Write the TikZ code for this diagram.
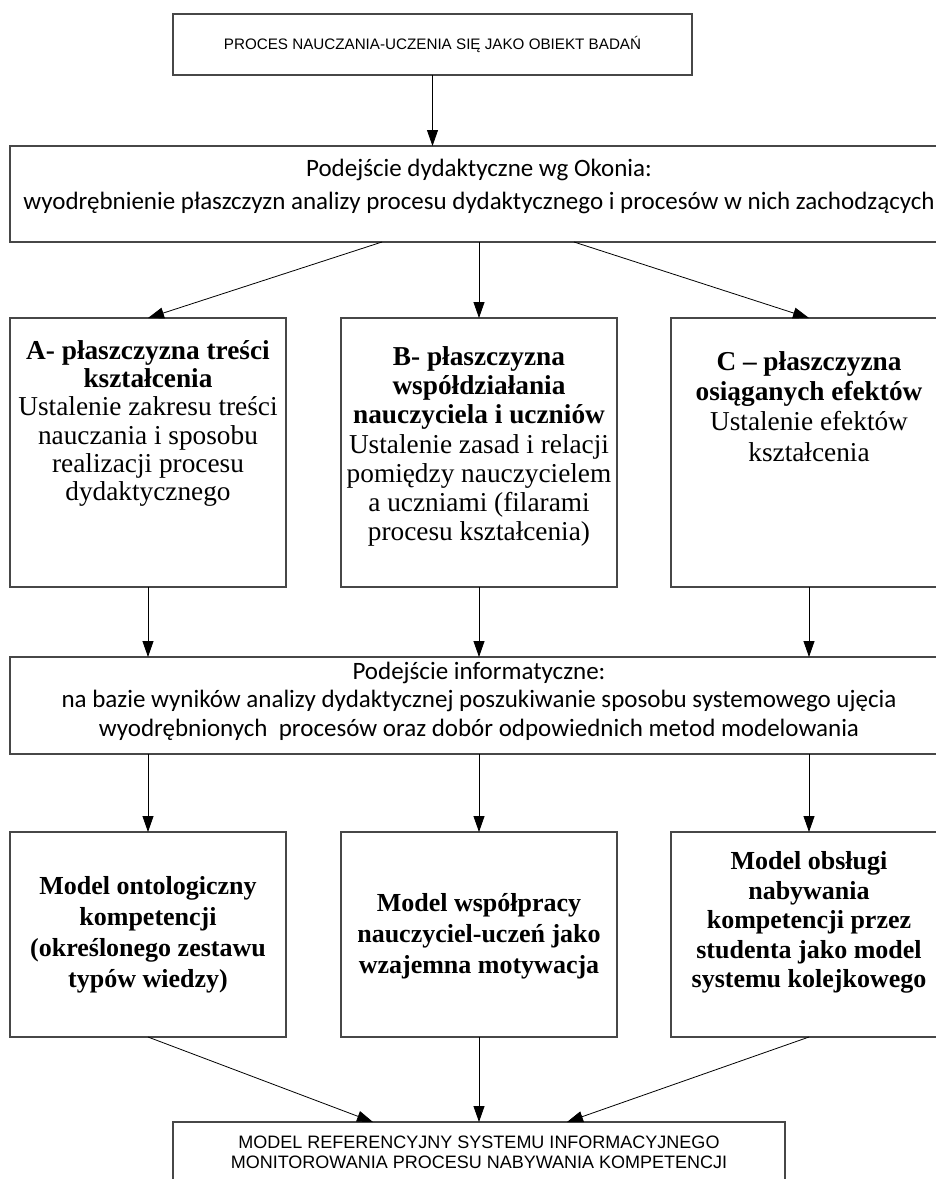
\documentclass[tikz,border=0pt]{standalone}
\usepackage{fontspec}
\setmainfont{Liberation Serif}
\newfontfamily\arialfont{Liberation Sans}
\newfontfamily\califont{Carlito}
\usetikzlibrary{arrows.meta}
\begin{document}
\begin{tikzpicture}[x=1pt, y=-1pt,
  frame/.style={draw=black!72, line width=1.1pt, fill=white, inner sep=0pt, outer sep=0pt},
  link/.style={draw=black, line width=0.8pt, -{Triangle[length=16pt,width=11pt]}},
  capstext/.style={font=\arialfont\fontsize{15.2}{19}\selectfont, align=center, inner sep=0pt},
  bigcaps/.style={font=\arialfont\fontsize{18}{20}\selectfont, align=center, inner sep=0pt},
  calitext/.style={font=\califont\fontsize{25}{33}\selectfont, align=center, inner sep=0pt},
  calitight/.style={font=\califont\fontsize{25}{28.5}\selectfont, align=center, inner sep=0pt},
  planetext/.style={font=\fontsize{27.3}{29.3}\selectfont, align=center, inner sep=0pt},
  modeltext/.style={font=\bfseries\fontsize{26}{31}\selectfont, align=center, inner sep=0pt},
]
\useasboundingbox[fill=white] (0,0) rectangle (936,1179);
\clip (0,0) rectangle (936,1179);

% research object
\node[frame, minimum width=519pt, minimum height=61pt, anchor=north west] (obj) at (173,14) {};
\node[capstext] (objt) at (obj.center) {PROCES NAUCZANIA-UCZENIA SIĘ JAKO OBIEKT BADAŃ};

% didactic approach
\node[frame, minimum width=938pt, minimum height=96pt, anchor=north west] (dyd) at (10,146) {};
\node[calitext] (dydt) at ([yshift=7.5pt]dyd.center) {Podejście dydaktyczne wg Okonia:\\
wyodrębnienie płaszczyzn analizy procesu dydaktycznego i procesów w nich zachodzących};

% three planes
\node[frame, minimum width=276pt, minimum height=269pt, anchor=north west] (pa) at (10,318) {};
\node[frame, minimum width=276pt, minimum height=269pt, anchor=north west] (pb) at (341,318) {};
\node[frame, minimum width=276pt, minimum height=269pt, anchor=north west] (pc) at (671,318) {};
\node[planetext, font=\fontsize{27.3}{28.3}\selectfont, anchor=north] (pat) at ([yshift=-22pt]pa.north)
{\textbf{A- płaszczyzna treści}\\
\textbf{kształcenia}\\ Ustalenie zakresu treści\\ nauczania i sposobu\\ realizacji procesu\\ dydaktycznego};
\node[planetext, anchor=north] (pbt) at ([yshift=-28pt]pb.north) {\textbf{B- płaszczyzna}\\
\textbf{współdziałania}\\ \textbf{nauczyciela i uczniów}\\ Ustalenie zasad i relacji\\
pomiędzy nauczycielem\\ a uczniami (filarami\\ procesu kształcenia)};
\node[planetext, font=\fontsize{27.3}{30.3}\selectfont, anchor=north] (pct) at ([yshift=-33pt]pc.north)
{\textbf{C – płaszczyzna}\\
\textbf{osiąganych efektów}\\ Ustalenie efektów\\ kształcenia};

% informatics approach
\node[frame, minimum width=938pt, minimum height=97pt, anchor=north west] (inf) at (10,657) {};
\node[calitight] (inft) at ([yshift=4.5pt]inf.center) {Podejście informatyczne:\\
na bazie wyników analizy dydaktycznej poszukiwanie sposobu systemowego ujęcia\\
wyodrębnionych\ \ procesów oraz dobór odpowiednich metod modelowania};

% models
\node[frame, minimum width=276pt, minimum height=205pt, anchor=north west] (ma) at (10,832) {};
\node[frame, minimum width=276pt, minimum height=205pt, anchor=north west] (mb) at (341,832) {};
\node[frame, minimum width=276pt, minimum height=205pt, anchor=north west] (mc) at (671,832) {};
\node[modeltext] (mat) at (ma.center) {Model ontologiczny\\ kompetencji\\
(określonego zestawu\\ typów wiedzy)};
\node[modeltext] (mbt) at ([yshift=-2pt]mb.center) {Model współpracy\\ nauczyciel-uczeń jako\\ wzajemna motywacja};
\node[modeltext, font=\bfseries\fontsize{26}{29.5}\selectfont] (mct) at ([yshift=12pt]mc.center)
{Model obsługi\\ nabywania\\
kompetencji przez\\ studenta jako model\\ systemu kolejkowego};

% reference model
\node[frame, minimum width=612pt, minimum height=90pt, anchor=north west] (ref) at (173,1122) {};
\node[bigcaps, anchor=north] (reft) at ([yshift=-13.5pt]ref.north) {MODEL REFERENCYJNY SYSTEMU INFORMACYJNEGO\\
MONITOROWANIA PROCESU NABYWANIA KOMPETENCJI};

% connectors
\draw[link] (obj.south) -- (obj.south |- dyd.north);
\draw[link] ([xshift=-97pt]dyd.south) -- (pa.north);
\draw[link] (dyd.south) -- (pb.north);
\draw[link] ([xshift=95pt]dyd.south) -- (pc.north);
\draw[link] (pa.south) -- (pa.south |- inf.north);
\draw[link] (pb.south) -- (pb.south |- inf.north);
\draw[link] (pc.south) -- (pc.south |- inf.north);
\draw[link] (ma.north |- inf.south) -- (ma.north);
\draw[link] (mb.north |- inf.south) -- (mb.north);
\draw[link] (mc.north |- inf.south) -- (mc.north);
\draw[link] (ma.south) -- ([xshift=-106pt]ref.north);
\draw[link] (mb.south) -- (ref.north);
\draw[link] (mc.south) -- ([xshift=88pt]ref.north);
\end{tikzpicture}
\end{document}
